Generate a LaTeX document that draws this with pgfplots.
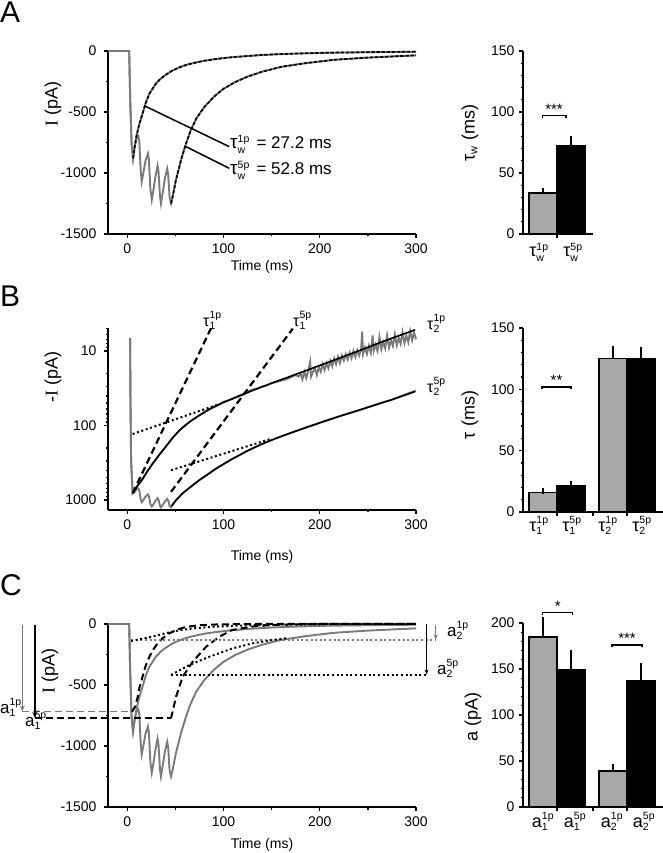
\documentclass[border=0pt]{standalone}
\usepackage{fontspec}
\setmainfont{Liberation Sans}
\newfontfamily\serifI{Liberation Serif}
\usepackage{pgfplots}
\pgfplotsset{compat=1.18}
\usepackage{pgfplotstable}
\usetikzlibrary{arrows.meta}
\definecolor{tracegray}{RGB}{122,122,122}
\definecolor{bargray}{RGB}{168,168,168}
\newcommand{\fs}[1]{\fontsize{#1}{#1}\selectfont}
\newcommand{\sym}[4]{{\fs{#1}#2$^{\hbox{\fs{10.5}#3}}_{\hbox{\fs{10.5}#4}}$}}

\pgfplotstableread{
t v
-20 0
2 0
3 -380
4.5 -760
6 -880
7.5 -800
9.5 -700
12.5 -600
16 -510
19.4 -420
23 -350
30 -265
35 -225
40 -195
47 -160
54 -135
62 -112
71 -95
80 -80
92 -66
105 -54
120 -44
137.5 -34
155 -27
180 -20
210 -14
240 -11
270 -8
300 -6
}\trOne

\pgfplotstableread{
t v
-20 0
2 0
3 -380
4.5 -760
6 -880
7.5 -790
9.5 -720
11.5 -700
12.5 -740
14 -980
15 -1070
16.5 -1010
19 -900
21.5 -840
22.5 -890
24 -1130
25.5 -1220
27 -1150
29.5 -1020
31.5 -940
32.5 -990
34 -1190
35 -1250
36.5 -1180
39 -1050
41.5 -965
42.5 -1010
44 -1200
45.5 -1250
47 -1200
50.5 -1060
56 -890
61 -760
66 -650
72 -550
80 -460
90 -375
100 -310
112 -255
125 -210
140 -170
160 -130
185 -100
215 -72
250 -54
280 -43
300 -36
}\trFive

\pgfplotstableread{
t v
3 6.7
3.3 40
4 300
5.6 813
7.5 760
10 660
13 590
16 520
21 410
26 330
33 250
40 192
47 147
54 117
60 99
65 89
70 80
75 73
80 66
85 60
90 56
95 52
100 48
105 46
110 43
115 40
120 38
125 35
130 33
135 32
140 30
145 29
150 27
155 26
160 25
165 24
170 22.5
175 21
178 22
180 20
182 24
184 19
186 23
188 18.5
190 14
191 22
193 19
195 17
197 21
199 16.5
201 19
203 15
205 18
207 14.5
209 17
211 13.5
213 16
215 12.5
217 15
219 12
221 14.5
223 11.5
225 13.5
227 11
229 13
231 10.5
233 12.5
235 10
237 12
239 9.8
241 11.5
243 9.5
244 5.5
245 11
247 9
249 11
251 8.5
253 10.5
255 6.2
256 10
258 8.2
260 10
262 6.5
264 9.5
266 7.6
268 9.2
270 6.2
272 9
274 7.2
276 8.6
278 6
280 8.4
282 6.6
284 8
286 5.6
288 7.8
290 6.2
292 7.6
294 5.4
296 7.2
298 5.6
300 7
}\bOne

\pgfplotstableread{
t v
3 6.7
3.3 40
4 300
5.6 813
7.5 790
9.5 720
11.5 700
12.5 740
14 980
15 1070
16.5 1010
19 900
21.5 840
22.5 890
24 1130
25.5 1220
27 1150
29.5 1020
31.5 940
32.5 990
34 1190
35 1250
36.5 1180
39 1050
41.5 965
42.5 1010
44 1200
45.5 1250
47 1180
50 1030
55 870
60 760
65 680
70 600
75 540
80 485
85 440
90 395
95 360
100 330
105 300
110 277
118 245
125 218
133 195
140 177
148 160
155 148
165 132
175 119
185 107
195 97
205 87
215 79
225 72
235 66
245 60
255 54
265 49
275 45
285 40
292 37
300 34
}\bFive

\pgfplotstableread{
t v
7 770
10 660
13 590
16 520
21 410
26 330
33 250
40 192
47 147
54 117
65 89
75 73
85 61
100 49
115 41
130 34
150 27
180 19.5
210 14
240 10
270 7.1
299 5.2
}\fitOne

\pgfplotstableread{
t v
46 1200
50 1030
57.6 813
65 680
75 540
85 440
95 360
110 277
125 218
140 177
155 148
175 119
200 92
225 72
250 57
275 45
299 35
}\fitFive

\pgfplotsset{
  myax/.style={scale only axis, anchor=south west, axis lines=left,
    axis line style={line width=2pt,-}, tick style={line width=1.3pt, black},
    major tick length=4pt, minor tick length=2.5pt, tick align=outside,
    ticklabel style={font=\fs{14}},
    xticklabel style={yshift=-2.5pt}, yticklabel style={xshift=-4pt},
    /pgf/number format/assume math mode=true, /pgf/number format/1000 sep={},
    clip=false},
  barax/.style={myax, yticklabel style={xshift=3pt}},
  barg/.style={ybar, bar width=28, bar shift=0pt, fill=bargray, draw=black, line width=1.5pt,
    error bars/.cd, y dir=plus, y explicit,
    error bar style={line width=1.4pt, black},
    error mark options={black, line width=1.4pt, mark size=3.2pt}},
  bark/.style={ybar, bar width=28, bar shift=0pt, fill=black, draw=black, line width=1.5pt,
    error bars/.cd, y dir=plus, y explicit,
    error bar style={line width=1.4pt, black},
    error mark options={black, line width=1.4pt, mark size=3.2pt}},
  trace/.style={tracegray, line width=1.9pt},
  fitd/.style={black, line width=1.7pt, dash pattern=on 3.5pt off 1.6pt},
  longd/.style={black, line width=2pt, dash pattern=on 7pt off 4pt},
  dotb/.style={black, line width=2pt, dash pattern=on 2pt off 2.6pt},
}

\begin{document}
\begin{tikzpicture}
\path[use as bounding box] (0,0) rectangle (663pt,853pt);

% ---------------- Panel A trace
\begin{axis}[myax, at={(108pt,619pt)}, width=308pt, height=183pt,
  xmin=-20, xmax=300, ymin=-1500, ymax=0,
  xtick={0,100,200,300}, minor xtick={50,150,250},
  ytick={-1500,-1000,-500,0}, minor ytick={-1250,-750,-250}]
\addplot[trace] table[x=t,y=v]{\trFive};
\addplot[trace] table[x=t,y=v]{\trOne};
\addplot[fitd, restrict x to domain=6:300] table[x=t,y=v]{\trOne};
\addplot[fitd, restrict x to domain=45.5:300] table[x=t,y=v]{\trFive};
\addplot[black, line width=1.5pt] coordinates {(18,-450) (106,-784)};
\addplot[black, line width=1.5pt] coordinates {(61,-784) (106,-962)};
\end{axis}
\node[anchor=base west, inner sep=0] at (230pt,704pt) {\sym{19}{τ}{1p}{w}\kern2pt\fs{17} = 27.2 ms};
\node[anchor=base west, inner sep=0] at (230pt,678pt) {\sym{19}{τ}{5p}{w}\kern2pt\fs{17} = 52.8 ms};

% ---------------- Panel A bars
\begin{axis}[barax, at={(523pt,619pt)}, width=70pt, height=183pt,
  xmin=0, xmax=70, ymin=0, ymax=150, ytick={0,50,100,150}, minor y tick num=4,
  xtick={34}, xticklabels={}]
\addplot[barg] coordinates {(20,33.5) +- (0,1.5)};
\addplot[bark] coordinates {(48,72) +- (0,6)};
\draw[black, line width=1.4pt] (axis cs:19.5,95) -- (axis cs:19.5,97) -- (axis cs:43,97) -- (axis cs:43,95);
\node[anchor=south, inner sep=1pt, font=\fs{15}] at (axis cs:31,97) {***};
\end{axis}
\node[anchor=base] at (539pt,596pt) {\sym{18}{τ}{1p}{w}};
\node[anchor=base] at (573pt,596pt) {\sym{18}{τ}{5p}{w}};

% ---------------- Panel B trace
\begin{axis}[myax, at={(108pt,343pt)}, width=308pt, height=182pt,
  xmin=-20, xmax=300, ymode=log, y dir=reverse, ymin=4.91, ymax=1361,
  xtick={0,100,200,300}, minor xtick={50,150,250},
  ytick={10,100,1000}, yticklabels={10,100,1000},
  minor ytick={5,6,7,8,9,20,30,40,50,60,70,80,90,200,300,400,500,600,700,800,900}]
\addplot[trace] table[x=t,y=v]{\bFive};
\addplot[trace] table[x=t,y=v]{\bOne};
\addplot[black, line width=1.6pt] table[x=t,y=v]{\fitOne};
\addplot[black, line width=1.6pt] table[x=t,y=v]{\fitFive};
\addplot[dotb] coordinates {(5.6,130) (95,52)};
\addplot[dotb] coordinates {(45.5,398) (150,150)};
\addplot[longd, line width=2.2pt] coordinates {(5.6,813) (87,4.95)};
\addplot[longd, line width=2.2pt] coordinates {(45.5,777) (172,5.0)};
\end{axis}
\node[anchor=base west, inner sep=0] at (203pt,526pt) {\sym{16}{τ}{1p}{1}};
\node[anchor=base west, inner sep=0] at (293pt,526pt) {\sym{16}{τ}{5p}{1}};
\node[anchor=base west, inner sep=0] at (427pt,523pt) {\sym{16}{τ}{1p}{2}};
\node[anchor=base west, inner sep=0] at (427pt,460pt) {\sym{16}{τ}{5p}{2}};

% ---------------- Panel B bars
\begin{axis}[barax, at={(523pt,341pt)}, width=140pt, height=184pt,
  xmin=0, xmax=140, ymin=0, ymax=150, ytick={0,50,100,150}, minor y tick num=4,
  xtick={34,70,104}, xticklabels={}]
\addplot[barg] coordinates {(20,16) +- (0,1)};
\addplot[bark] coordinates {(48,21) +- (0,1.5)};
\addplot[barg] coordinates {(90,125) +- (0,8)};
\addplot[bark] coordinates {(118,125) +- (0,7)};
\draw[black, line width=1.4pt] (axis cs:19,100) -- (axis cs:19,102) -- (axis cs:48,102) -- (axis cs:48,100);
\node[anchor=south, inner sep=1pt, font=\fs{15}] at (axis cs:33.5,102) {**};
\end{axis}
\node[anchor=base] at (539pt,321pt) {\sym{18}{τ}{1p}{1}};
\node[anchor=base] at (572pt,321pt) {\sym{18}{τ}{5p}{1}};
\node[anchor=base] at (608pt,321pt) {\sym{18}{τ}{1p}{2}};
\node[anchor=base] at (642pt,321pt) {\sym{18}{τ}{5p}{2}};

% ---------------- Panel C trace
\begin{axis}[myax, at={(108pt,46pt)}, width=308pt, height=183pt,
  xmin=-20, xmax=300, ymin=-1500, ymax=0,
  xtick={0,100,200,300}, minor xtick={50,150,250},
  ytick={-1500,-1000,-500,0}, minor ytick={-1250,-750,-250}]
\addplot[trace] table[x=t,y=v]{\trFive};
\addplot[trace] table[x=t,y=v]{\trOne};
% a1 levels and arrows
\addplot[tracegray, line width=1.5pt, dash pattern=on 7pt off 4pt] coordinates {(-109,-719) (5,-719)};
\addplot[longd] coordinates {(-96,-773) (45.5,-773)};
\addplot[tracegray, line width=1.5pt, -{Stealth[length=6pt,width=5pt]}] coordinates {(-109,-5) (-109,-716)};
\addplot[black, line width=1.5pt, -{Stealth[length=6pt,width=5pt]}] coordinates {(-96,-5) (-96,-770)};
% fast components
\addplot[longd] coordinates {(5,-719) (8,-680) (10.8,-600) (13,-510) (16,-430) (19,-345) (22.9,-270) (27,-210) (31.6,-158) (37,-115) (43.8,-77) (52,-45) (61,-24) (75,-10) (95,-3) (130,0) (300,0)};
\addplot[longd] coordinates {(45.5,-773) (50.7,-596) (57.6,-432) (68,-309) (82,-186) (95.8,-104) (109,-49) (134,-16) (160,-5) (200,0) (300,0)};
% slow components and a2 levels
\addplot[tracegray, line width=1.4pt, dash pattern=on 2pt off 2.6pt] coordinates {(4,-131) (320,-131)};
\addplot[dotb, line width=1.8pt] coordinates {(45.5,-418) (311,-418)};
\addplot[dotb] coordinates {(4,-139) (26,-104) (40,-75) (55,-50) (70,-35) (90,-22) (120,-12) (160,-6) (200,-3)};
\addplot[dotb] coordinates {(45.5,-418) (64.6,-336) (85.4,-268) (109.7,-199) (130.6,-158) (151.4,-131) (165,-117)};
\addplot[tracegray, line width=1.3pt, -{Stealth[length=5pt,width=4pt]}] coordinates {(320.5,-8) (320.5,-128)};
\addplot[black, line width=1.6pt, -{Stealth[length=5pt,width=4pt]}] coordinates {(311,0) (311,-414)};
\end{axis}
\node[anchor=base west, inner sep=0] at (0pt,139pt) {\sym{17}{a}{1p}{1}};
\node[anchor=base west, inner sep=0] at (25pt,126pt) {\sym{17}{a}{5p}{1}};
\node[anchor=base west, inner sep=0] at (447pt,216pt) {\sym{17}{a}{1p}{2}};
\node[anchor=base west, inner sep=0] at (437pt,178pt) {\sym{17}{a}{5p}{2}};

% ---------------- Panel C bars
\begin{axis}[barax, at={(523pt,46pt)}, width=140pt, height=184pt,
  xmin=0, xmax=140, ymin=0, ymax=200, ytick={0,50,100,150,200}, minor y tick num=4,
  xtick={34,70,104}, xticklabels={}]
\addplot[barg] coordinates {(20,185) +- (0,18)};
\addplot[bark] coordinates {(48,149) +- (0,18)};
\addplot[barg] coordinates {(90,39) +- (0,4)};
\addplot[bark] coordinates {(118,137) +- (0,16)};
\draw[black, line width=1.4pt] (axis cs:19.7,209) -- (axis cs:19.7,211.6) -- (axis cs:49.7,211.6) -- (axis cs:49.7,209);
\node[anchor=south, inner sep=1pt, font=\fs{15}] at (axis cs:34.7,211.6) {*};
\draw[black, line width=1.4pt] (axis cs:89,173.4) -- (axis cs:89,176) -- (axis cs:119,176) -- (axis cs:119,173.4);
\node[anchor=south, inner sep=1pt, font=\fs{15}] at (axis cs:104,176) {***};
\end{axis}
\node[anchor=base] at (543pt,25pt) {\sym{18}{a}{1p}{1}};
\node[anchor=base] at (575pt,25pt) {\sym{18}{a}{5p}{1}};
\node[anchor=base] at (612pt,25pt) {\sym{18}{a}{1p}{2}};
\node[anchor=base] at (644pt,25pt) {\sym{18}{a}{5p}{2}};

% ---------------- labels
\node[anchor=base west, inner sep=0, font=\fs{30}] at (0pt,830pt) {A};
\node[anchor=base west, inner sep=0, font=\fs{30}] at (0pt,546pt) {B};
\node[anchor=base west, inner sep=0, font=\fs{30}] at (0pt,257pt) {C};
\node[font=\fs{14}] at (262pt,586pt) {Time (ms)};
\node[font=\fs{14}] at (262pt,296pt) {Time (ms)};
\node[font=\fs{14}] at (262pt,8pt) {Time (ms)};
\node[rotate=90, font=\fs{18}] at (53pt,749pt) {{\serifI I} (pA)};
\node[rotate=90, font=\fs{18}] at (53pt,476pt) {-{\serifI I} (pA)};
\node[rotate=90, font=\fs{18}] at (50pt,182pt) {{\serifI I} (pA)};
\node[rotate=90, font=\fs{18}] at (470pt,720pt) {τ$_{\hbox{\fs{11}w}}$ (ms)};
\node[rotate=90, font=\fs{18}] at (470pt,438pt) {τ (ms)};
\node[rotate=90, font=\fs{18}] at (473pt,136pt) {a (pA)};
\end{tikzpicture}
\end{document}
